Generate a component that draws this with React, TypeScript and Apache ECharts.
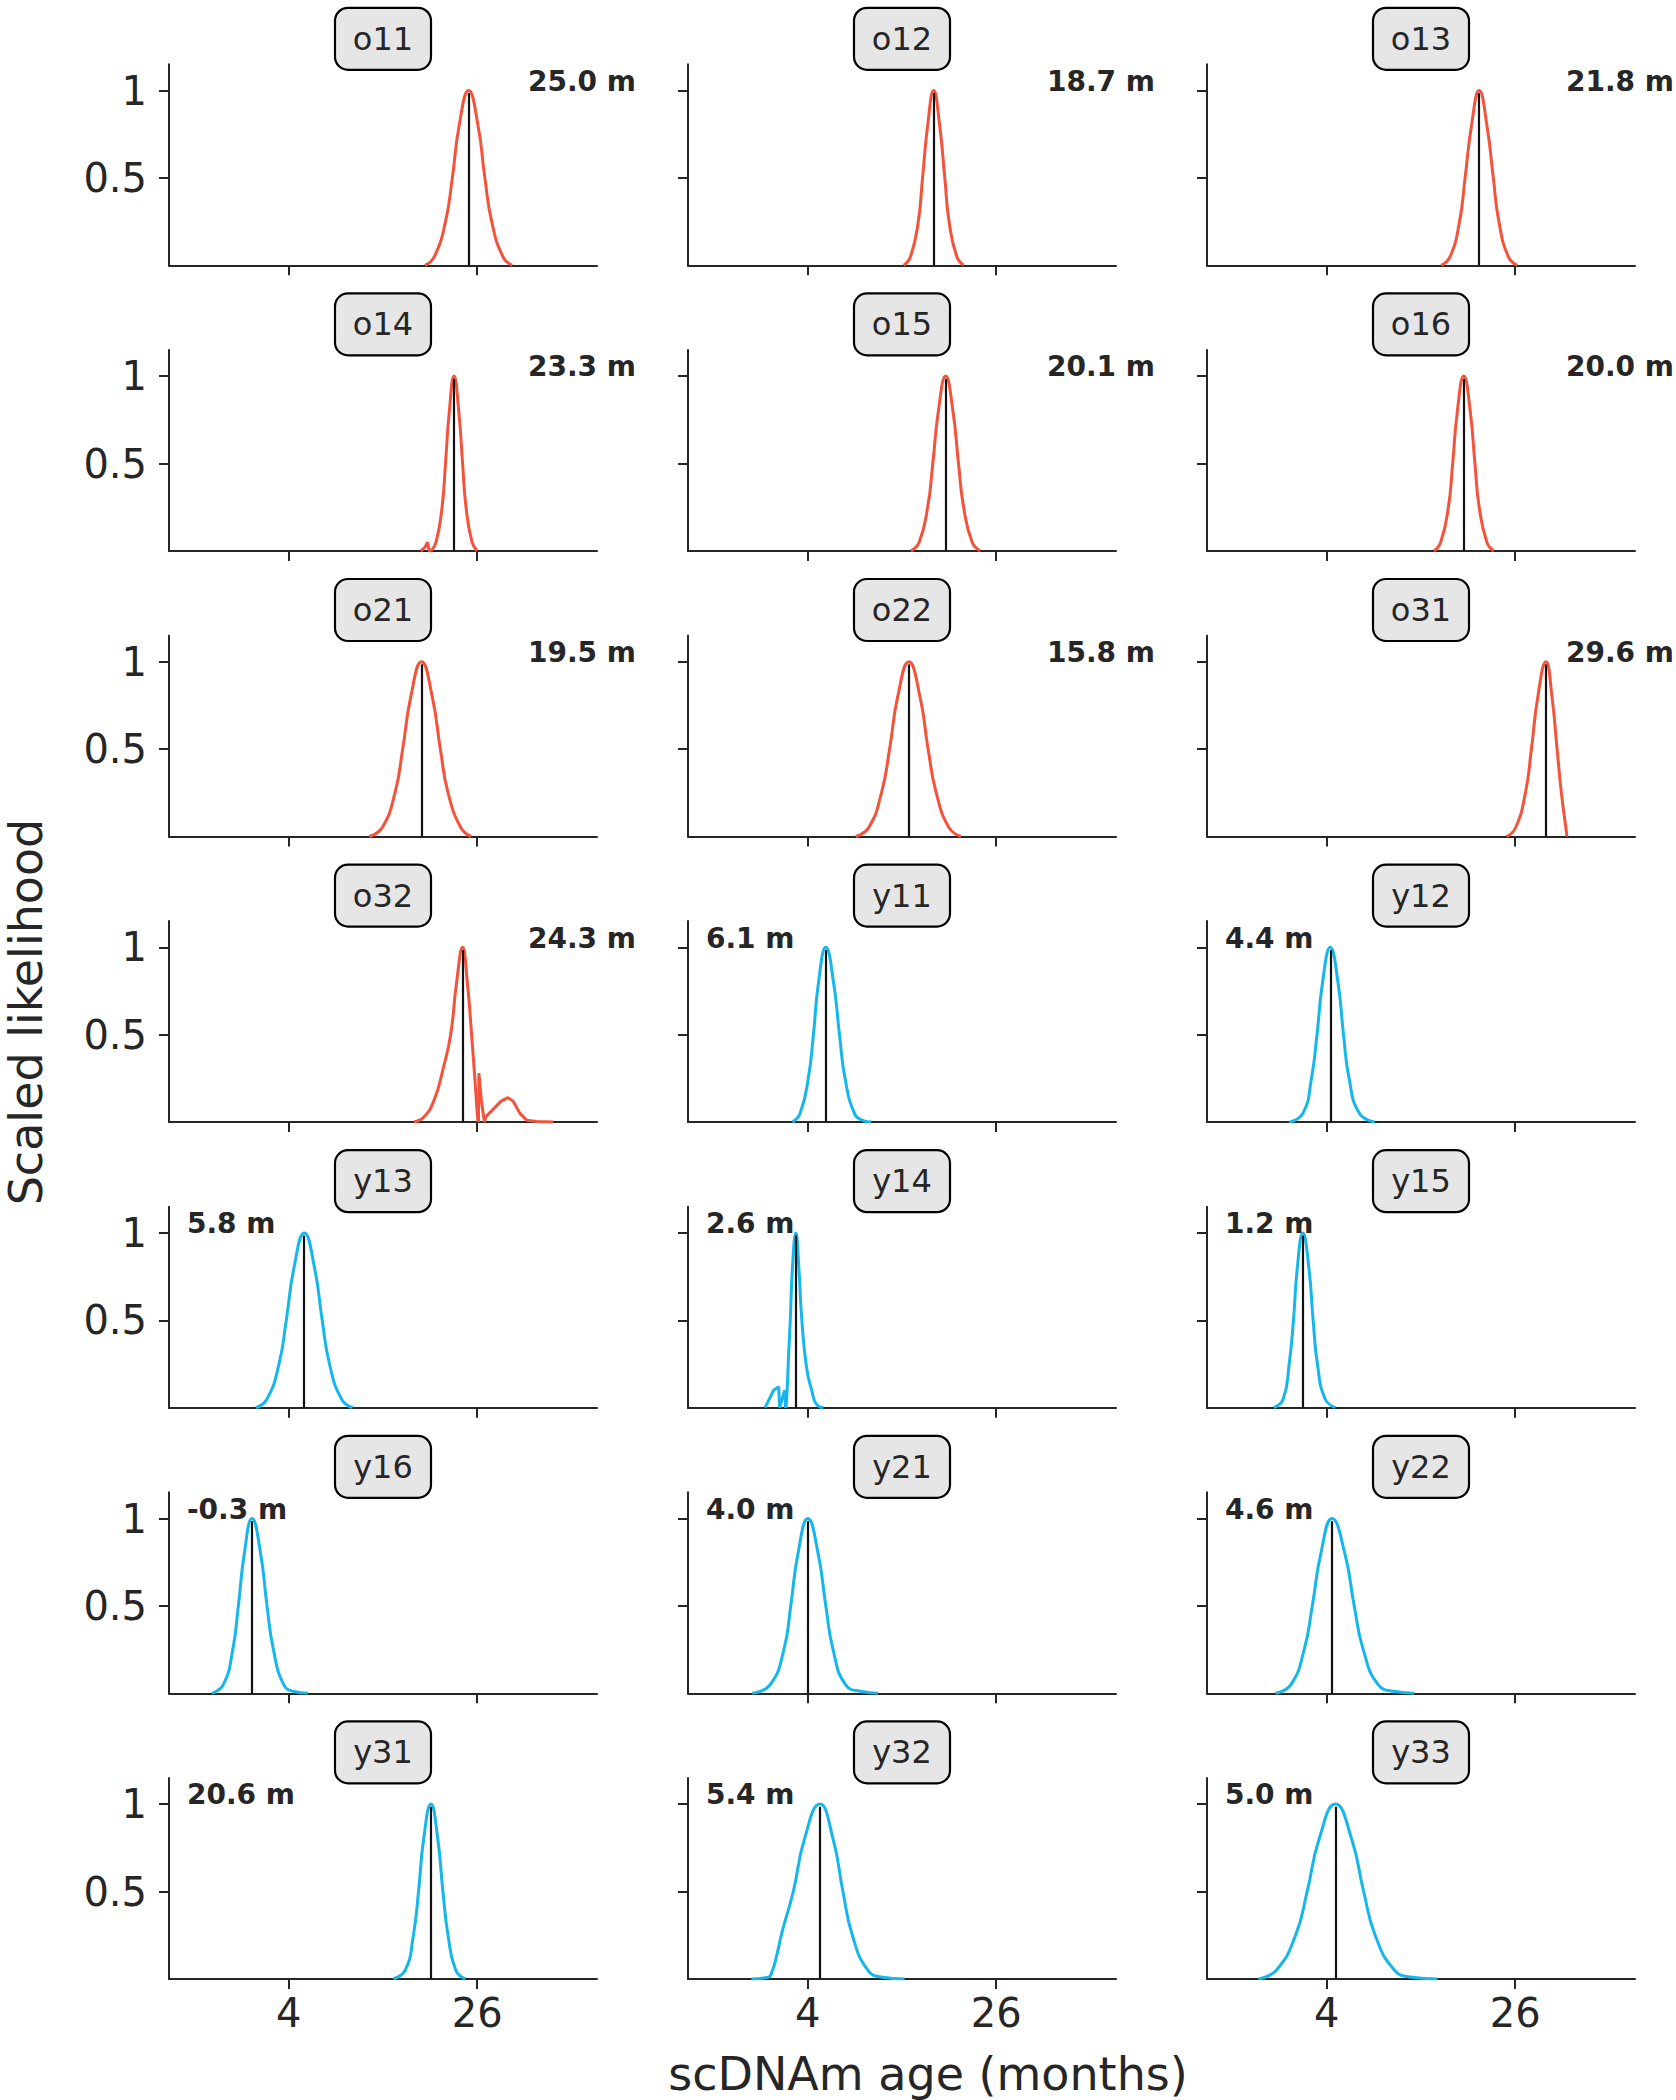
import React, { useEffect, useRef } from 'react';
import * as echarts from 'echarts';

// ---------------- data ----------------
const SAMPLES = ['o11', 'o12', 'o13', 'o14', 'o15', 'o16', 'o21', 'o22', 'o31', 'o32', 'y11', 'y12', 'y13', 'y14', 'y15', 'y16', 'y21', 'y22', 'y31', 'y32', 'y33'];
const AGES = [25.0, 18.7, 21.8, 23.3, 20.1, 20.0, 19.5, 15.8, 29.6, 24.3, 6.1, 4.4, 5.8, 2.6, 1.2, -0.3, 4.0, 4.6, 20.6, 5.4, 5.0];
const X_TICKS = [4, 26];
const Y_TICKS = [0.5, 1];
const X_MIN = -10;
const X_MAX = 40;
const Y_MAX = 1.15;

// likelihood curves: [age (months), scaled likelihood]
const o11 = [[19.9, 0], [21.0, 0.05], [22.3, 0.25], [23.1, 0.5], [23.9, 0.8], [25.0, 1], [26.1, 0.8], [26.9, 0.5], [27.7, 0.25], [29.0, 0.05], [30.1, 0]];
const o12 = [[15.2, 0], [16.0, 0.05], [16.9, 0.25], [17.4, 0.5], [18.0, 0.8], [18.7, 1], [19.4, 0.8], [20.0, 0.5], [20.5, 0.25], [21.4, 0.05], [22.2, 0]];
const o13 = [[17.35, 0], [18.4, 0.05], [19.5, 0.25], [20.15, 0.5], [20.9, 0.8], [21.8, 1], [22.7, 0.8], [23.45, 0.5], [24.1, 0.25], [25.2, 0.05], [26.25, 0]];
const o14 = [[20.6, 0], [21.2, 0.05], [21.9, 0.25], [22.3, 0.5], [22.75, 0.8], [23.3, 1], [23.85, 0.8], [24.3, 0.5], [24.7, 0.25], [25.4, 0.05], [26.0, 0]];
const o14Bump = [[19.4, 0], [19.9, 0.02], [20.2, 0.05], [20.4, 0], [20.6, 0]];
const o15 = [[16.05, 0], [17.0, 0.05], [18.0, 0.25], [18.6, 0.5], [19.25, 0.8], [20.1, 1], [20.95, 0.8], [21.6, 0.5], [22.2, 0.25], [23.2, 0.05], [24.15, 0]];
const o16 = [[16.5, 0], [17.3, 0.05], [18.2, 0.25], [18.7, 0.5], [19.25, 0.8], [20.0, 1], [20.75, 0.8], [21.3, 0.5], [21.8, 0.25], [22.7, 0.05], [23.5, 0]];
const o21 = [[13.4, 0], [14.9, 0.05], [16.4, 0.25], [17.3, 0.5], [18.25, 0.8], [19.5, 1], [20.75, 0.8], [21.7, 0.5], [22.6, 0.25], [24.1, 0.05], [25.3, 0]];
const o22 = [[9.6, 0], [11.1, 0.05], [12.6, 0.25], [13.55, 0.5], [14.5, 0.8], [15.8, 1], [17.1, 0.8], [18.05, 0.5], [19.0, 0.25], [20.5, 0.05], [21.9, 0]];
const o31 = [[25.0, 0], [26.05, 0.05], [27.2, 0.25], [27.9, 0.5], [28.65, 0.8], [29.6, 1], [30.3, 0.8], [30.9, 0.5], [31.4, 0.25], [31.9, 0.06]];
const o31Drop = [[31.9, 0.06], [32.05, 0]];
const o32 = [[18.6, 0], [19.8, 0.03], [21.0, 0.13], [22.0, 0.3], [22.9, 0.5], [23.6, 0.8], [24.3, 1], [24.85, 0.8], [25.35, 0.5], [25.8, 0.2], [26.05, 0.03], [26.15, 0]];
const o32Tail = [[26.15, 0], [26.2, 0.28], [26.5, 0.12], [26.85, 0], [27.0, 0.03], [27.8, 0.07], [28.8, 0.12], [29.6, 0.14], [30.2, 0.12], [31.0, 0.05], [31.8, 0.01], [33.0, 0.004], [34.9, 0]];
const y11 = [[2.2, 0], [3.1, 0.05], [4.05, 0.25], [4.65, 0.5], [5.25, 0.8], [6.1, 1], [7.0, 0.8], [7.7, 0.5], [8.35, 0.25], [9.45, 0.05], [10.4, 0.01], [11.4, 0]];
const y12 = [[-0.4, 0], [1.2, 0.05], [2.2, 0.25], [2.85, 0.5], [3.5, 0.8], [4.4, 1], [5.3, 0.8], [5.95, 0.5], [6.6, 0.25], [7.8, 0.05], [9.6, 0]];
const y13 = [[0.15, 0], [1.45, 0.05], [2.85, 0.25], [3.7, 0.5], [4.6, 0.8], [5.8, 1], [7.0, 0.8], [7.9, 0.5], [8.75, 0.25], [10.15, 0.05], [11.45, 0]];
const y14 = [[1.45, 0], [1.6, 0.12], [1.75, 0.3], [1.95, 0.5], [2.2, 0.8], [2.6, 1], [2.95, 0.8], [3.3, 0.5], [3.85, 0.23], [4.45, 0.1], [5.0, 0.02], [5.8, 0]];
const y14Left = [[-1.0, 0], [-0.5, 0.05], [0.0, 0.1], [0.6, 0.12], [0.7, 0], [1.0, 0.05], [1.3, 0.1], [1.4, 0]];
const y15 = [[-2.2, 0], [-1.1, 0.05], [-0.4, 0.25], [0.1, 0.5], [0.55, 0.8], [1.2, 1], [1.9, 0.8], [2.4, 0.5], [2.9, 0.25], [3.8, 0.05], [5.0, 0]];
const y16 = [[-5.0, 0], [-3.65, 0.05], [-2.55, 0.25], [-1.9, 0.5], [-1.2, 0.8], [-0.3, 1], [0.7, 0.8], [1.45, 0.5], [2.2, 0.25], [3.4, 0.05], [4.6, 0.01], [6.2, 0]];
const y21 = [[-2.5, 0], [-0.4, 0.05], [1.2, 0.25], [2.0, 0.5], [2.85, 0.8], [4.0, 1], [5.2, 0.8], [6.1, 0.5], [6.95, 0.25], [8.4, 0.05], [10.3, 0.01], [12.2, 0]];
const y22 = [[-2.0, 0], [-0.2, 0.05], [1.35, 0.25], [2.3, 0.5], [3.3, 0.8], [4.6, 1], [6.1, 0.8], [7.2, 0.5], [8.25, 0.25], [10.0, 0.05], [12.0, 0.01], [14.2, 0]];
const y31 = [[16.2, 0], [17.6, 0.05], [18.55, 0.25], [19.15, 0.5], [19.75, 0.8], [20.6, 1], [21.4, 0.8], [22.0, 0.5], [22.6, 0.25], [23.5, 0.05], [24.6, 0]];
const y32 = [[-2.6, 0], [-0.6, 0.01], [-0.2, 0.04], [0.3, 0.12], [1.0, 0.27], [2.3, 0.5], [3.6, 0.8], [5.4, 1], [6.95, 0.8], [8.1, 0.5], [9.2, 0.25], [11.0, 0.05], [12.7, 0.01], [15.3, 0]];
const y33 = [[-4.0, 0], [-1.9, 0.05], [0.35, 0.25], [1.7, 0.5], [3.1, 0.8], [5.0, 1], [6.9, 0.8], [8.3, 0.5], [9.65, 0.25], [11.9, 0.05], [13.9, 0.01], [16.9, 0]];

const MAIN_CURVES = [o11, o12, o13, o14, o15, o16, o21, o22, o31, o32, y11, y12, y13, y14, y15, y16, y21, y22, y31, y32, y33];
const EXTRA_CURVES: Record<string, number[][]> = { o14: o14Bump, o31: o31Drop, o32: o32Tail, y14: y14Left };

// ---------------- style / layout ----------------
const FONT = "'DejaVu Sans', 'Noto Sans', sans-serif";
const RED = '#F4533B';
const BLUE = '#14B6EC';
const INK = '#262626';
const COL_LEFT = [169, 688, 1207];
const GRID_W = 428;
const GRID_H = 201;
const ROW_BOTTOM0 = 265.3;
const ROW_STEP = 285.6;

function buildOption() {
  const grid: any[] = [];
  const xAxis: any[] = [];
  const yAxis: any[] = [];
  const series: any[] = [];
  const title: any[] = [];
  const nRows = Math.ceil(SAMPLES.length / 3);

  SAMPLES.forEach((name, i) => {
    const row = Math.floor(i / 3);
    const col = i % 3;
    const left = COL_LEFT[col];
    const bottom = ROW_BOTTOM0 + row * ROW_STEP;
    const top = bottom - GRID_H;
    const isOld = name.startsWith('o');
    const color = isOld ? RED : BLUE;

    grid.push({ left, top, width: GRID_W, height: GRID_H });
    xAxis.push({
      type: 'value', gridIndex: i, min: X_MIN, max: X_MAX,
      splitLine: { show: false },
      axisLine: { show: true, onZero: false, lineStyle: { color: INK, width: 2 } },
      axisTick: { show: true, length: 10, inside: false, customValues: X_TICKS, lineStyle: { color: INK, width: 2 } },
      axisLabel: {
        show: row === nRows - 1, customValues: X_TICKS, fontSize: 40, color: INK,
        fontFamily: FONT, margin: 14,
      },
    });
    yAxis.push({
      type: 'value', gridIndex: i, min: 0, max: Y_MAX,
      splitLine: { show: false },
      axisLine: { show: true, onZero: false, lineStyle: { color: INK, width: 2 } },
      axisTick: { show: true, length: 10, inside: false, customValues: Y_TICKS, lineStyle: { color: INK, width: 2 } },
      axisLabel: {
        show: col === 0, customValues: Y_TICKS, fontSize: 40, color: INK, fontFamily: FONT, margin: 22,
        formatter: (v: number) => (v === 1 ? '1' : String(v)),
      },
    });

    series.push({
      type: 'line', xAxisIndex: i, yAxisIndex: i, data: MAIN_CURVES[i],
      smooth: 0.5, symbol: 'none', showSymbol: false,
      lineStyle: { color, width: 3 }, z: 2,
      markLine: {
        silent: true, symbol: ['none', 'none'], label: { show: false },
        lineStyle: { color: '#111111', width: 2.2, type: 'solid' },
        data: [[{ coord: [AGES[i], 0] }, { coord: [AGES[i], 0.985] }]],
      },
    });
    if (EXTRA_CURVES[name]) {
      series.push({
        type: 'line', xAxisIndex: i, yAxisIndex: i, data: EXTRA_CURVES[name],
        smooth: false, symbol: 'none', showSymbol: false,
        lineStyle: { color, width: 3 }, z: 2,
      });
    }

    // sample name box
    const padV = 13.5;
    const padH = 18;
    title.push({
      text: name,
      left: left + GRID_W / 2 - padH,
      top: top - 57,
      textAlign: 'center',
      padding: [padV, padH, padV, padH],
      backgroundColor: '#E6E6E6',
      borderColor: '#000000',
      borderWidth: 2.2,
      borderRadius: 13,
      textStyle: { fontSize: 32, fontWeight: 'normal', color: INK, fontFamily: FONT, lineHeight: 36 },
    });
    // predicted age annotation
    title.push({
      text: AGES[i].toFixed(1) + ' m',
      left: isOld ? left + 359 : left + 18,
      top: bottom - 184 - 15,
      textAlign: 'left',
      padding: 0,
      textStyle: { fontSize: 28, fontWeight: 'bold', color: INK, fontFamily: FONT, lineHeight: 30 },
    });
  });

  return {
    animation: false,
    backgroundColor: '#ffffff',
    title,
    grid,
    xAxis,
    yAxis,
    series,
    graphic: [
      {
        type: 'text', x: 26, y: 1012, rotation: Math.PI / 2,
        style: { text: 'Scaled likelihood', fontSize: 46, fill: INK, fontFamily: FONT, align: 'center', verticalAlign: 'middle' },
      },
      {
        type: 'text', x: 928, y: 2074,
        style: { text: 'scDNAm age (months)', fontSize: 46, fill: INK, fontFamily: FONT, align: 'center', verticalAlign: 'middle' },
      },
    ],
  };
}

export default function App() {
  const ref = useRef<HTMLDivElement>(null);
  useEffect(() => {
    if (!ref.current) return;
    const chart = echarts.init(ref.current, undefined, { renderer: 'svg' });
    chart.setOption(buildOption() as any);
    return () => chart.dispose();
  }, []);
  return (
    <div
      ref={ref}
      style={{ position: 'absolute', left: 0, top: 0, width: 1676, height: 2100, background: '#ffffff' }}
    />
  );
}
